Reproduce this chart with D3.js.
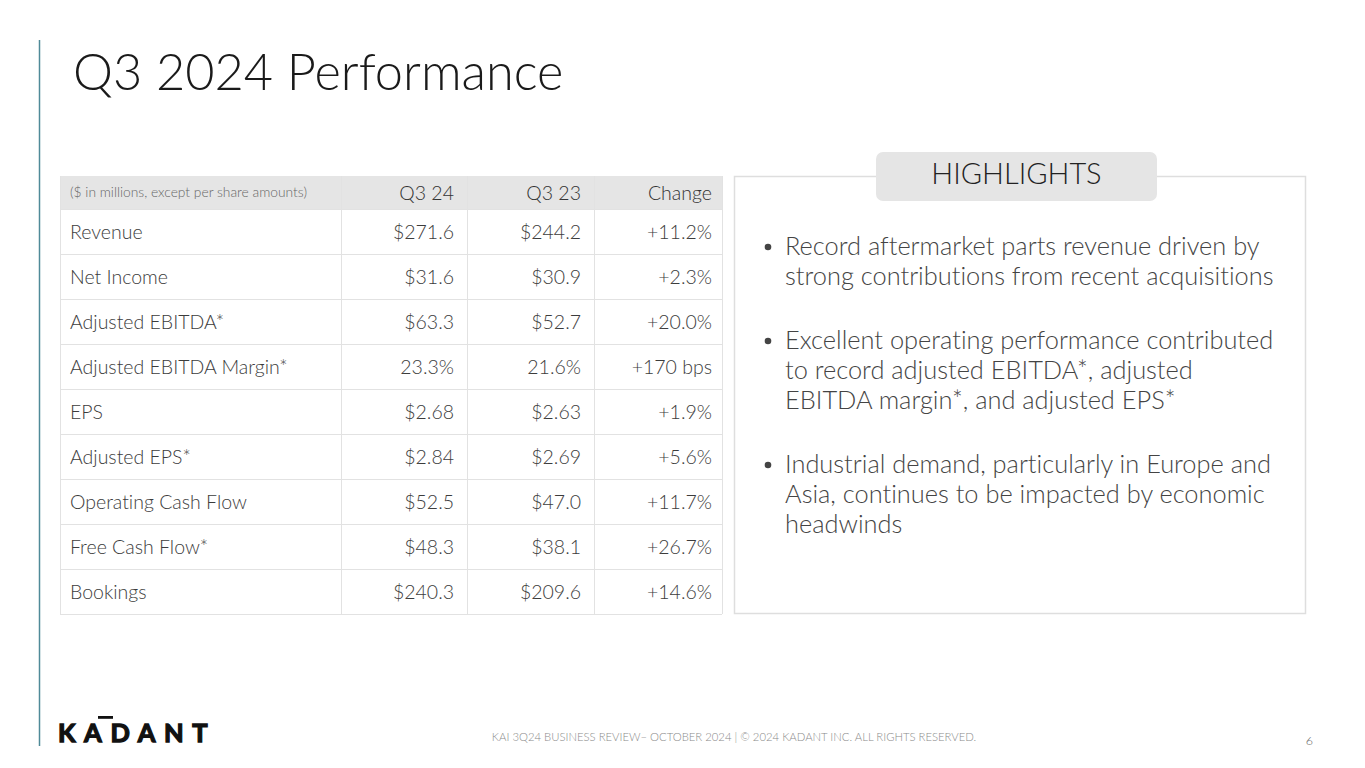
<!DOCTYPE html>
<html>
<head>
<meta charset="utf-8">
<script src="https://cdn.jsdelivr.net/npm/d3@7"></script>
<style>
  body { margin: 0; background: #fff; }
  svg { display: block; font-family: Lato, "Open Sans", sans-serif; font-variant-ligatures: none; }
</style>
</head>
<body>
<div class="chart"></div>
<script>
// table data
const metrics = ["Revenue", "Net Income", "Adjusted EBITDA*", "Adjusted EBITDA Margin*", "EPS",
  "Adjusted EPS*", "Operating Cash Flow", "Free Cash Flow*", "Bookings"];
const q324 = ["$271.6", "$31.6", "$63.3", "23.3%", "$2.68", "$2.84", "$52.5", "$48.3", "$240.3"];
const q323 = ["$244.2", "$30.9", "$52.7", "21.6%", "$2.63", "$2.69", "$47.0", "$38.1", "$209.6"];
const change = ["+11.2%", "+2.3%", "+20.0%", "+170 bps", "+1.9%", "+5.6%", "+11.7%", "+26.7%", "+14.6%"];
const columns = ["($ in millions, except per share amounts)", "Q3 24", "Q3 23", "Change"];

const highlights = [
  ["Record aftermarket parts revenue driven by", "strong contributions from recent acquisitions"],
  ["Excellent operating performance contributed", "to record adjusted EBITDA*, adjusted", "EBITDA margin*, and adjusted EPS*"],
  ["Industrial demand, particularly in Europe and", "Asia, continues to be impacted by economic", "headwinds"]
];

const W = 1365, H = 768;
const svg = d3.select(".chart").append("svg")
    .attr("width", W)
    .attr("height", H);

// left accent line
svg.append("line")
    .attr("x1", 39.5).attr("x2", 39.5)
    .attr("y1", 40).attr("y2", 746)
    .attr("stroke", "#4f8a98")
    .attr("stroke-width", 1.5);

// title
svg.append("text")
    .attr("x", 73)
    .attr("y", 90)
    .attr("font-size", 50.5)
    .attr("font-weight", 300)
    .attr("fill", "#1a1a1a")
    .text("Q3 2024 Performance");

// ---- table ----
const tbl = {left: 60, right: 722, top: 176, headH: 33};
const colEdges = [60, 341, 467, 594, 722];
const colPad = [10, 13, 13, 10];
const colX = i => i === 0 ? colEdges[0] + colPad[0] : colEdges[i + 1] - colPad[i];

const yScale = d3.scaleBand()
    .domain(d3.range(metrics.length))
    .range([tbl.top + tbl.headH, 614])
    .padding(0);

const tg = svg.append("g");

// header
tg.append("rect")
    .attr("x", tbl.left).attr("y", tbl.top)
    .attr("width", tbl.right - tbl.left).attr("height", tbl.headH)
    .attr("fill", "#e5e5e5");

tg.selectAll(".hdr")
    .data(columns)
    .join("text")
    .attr("class", "hdr")
    .attr("x", (d, i) => colX(i))
    .attr("y", tbl.top + tbl.headH / 2)
    .attr("dy", "0.36em")
    .attr("text-anchor", (d, i) => i === 0 ? "start" : "end")
    .attr("font-size", (d, i) => i === 0 ? 13.8 : 19.5)
    .attr("font-weight", 300)
    .attr("fill", (d, i) => i === 0 ? "#666" : "#333")
    .text(d => d);

// grid lines
const rowEdge = i => i === metrics.length ? yScale(i - 1) + yScale.bandwidth() : yScale(i);
tg.selectAll(".hline")
    .data(d3.range(metrics.length + 1))
    .join("line")
    .attr("class", "hline")
    .attr("x1", tbl.left).attr("x2", tbl.right)
    .attr("y1", i => rowEdge(i) + 0.5)
    .attr("y2", i => rowEdge(i) + 0.5)
    .attr("stroke", "#e2e2e2");

tg.selectAll(".vline")
    .data(colEdges)
    .join("line")
    .attr("class", "vline")
    .attr("x1", d => d + 0.5).attr("x2", d => d + 0.5)
    .attr("y1", tbl.top).attr("y2", 614)
    .attr("stroke", "#e2e2e2");

const rows = tg.selectAll(".row")
    .data(metrics.map((m, i) => [m, q324[i], q323[i], change[i]]))
    .join("g")
    .attr("class", "row")
    .attr("transform", (d, i) => `translate(0,${yScale(i) + yScale.bandwidth() / 2})`);

rows.selectAll("text")
    .data(d => d)
    .join("text")
    .attr("x", (d, i) => colX(i))
    .attr("dy", "0.36em")
    .attr("text-anchor", (d, i) => i === 0 ? "start" : "end")
    .attr("font-size", 19.5)
    .attr("font-weight", 300)
    .attr("fill", "#3c3c3c")
    .text(d => d);

// ---- highlights box ----
svg.append("rect")
    .attr("x", 734.5).attr("y", 176.5)
    .attr("width", 571).attr("height", 437)
    .attr("fill", "none")
    .attr("stroke", "#dedede")
    .attr("stroke-width", 1.5);

svg.append("rect")
    .attr("x", 876).attr("y", 152)
    .attr("width", 281).attr("height", 49)
    .attr("rx", 7)
    .attr("fill", "#e5e5e5");

svg.append("text")
    .attr("x", 1016.5)
    .attr("y", 184)
    .attr("text-anchor", "middle")
    .attr("font-size", 29)
    .attr("font-weight", 300)
    .attr("fill", "#222")
    .text("HIGHLIGHTS");

const bulletTop = [255, 349, 473];
const lineH = 30;
const hg = svg.append("g");
highlights.forEach((lines, i) => {
  hg.append("circle")
    .attr("cx", 768)
    .attr("cy", bulletTop[i] - 8)
    .attr("r", 3.3)
    .attr("fill", "#444");
  hg.append("text")
    .attr("x", 785)
    .attr("y", bulletTop[i])
    .attr("font-size", 25.4)
    .attr("font-weight", 300)
    .attr("fill", "#444")
    .selectAll("tspan")
    .data(lines)
    .join("tspan")
    .attr("x", 785)
    .attr("dy", (d, j) => j === 0 ? 0 : lineH)
    .text(d => d);
});

// ---- footer ----
svg.append("text")
    .attr("x", 58)
    .attr("y", 742)
    .attr("font-size", 25.5)
    .attr("font-weight", 700)
    .attr("letter-spacing", 8.6)
    .attr("fill", "#111")
    .attr("stroke", "#111")
    .attr("stroke-width", 1.3)
    .attr("font-family", "Lato, 'DejaVu Sans', sans-serif")
    .text("KADANT");
svg.append("rect")
    .attr("x", 98).attr("y", 716)
    .attr("width", 15).attr("height", 2.8)
    .attr("fill", "#111");

svg.append("text")
    .attr("x", 734)
    .attr("y", 741)
    .attr("text-anchor", "middle")
    .attr("font-size", 11.3)
    .attr("font-weight", 300)
    .attr("fill", "#8a8a8a")
    .text("KAI 3Q24 BUSINESS REVIEW– OCTOBER 2024  |  © 2024 KADANT INC. ALL RIGHTS RESERVED.");

svg.append("text")
    .attr("x", 1313)
    .attr("y", 745)
    .attr("text-anchor", "end")
    .attr("font-size", 12.5)
    .attr("font-weight", 300)
    .attr("fill", "#666")
    .text("6");
</script>
</body>
</html>
